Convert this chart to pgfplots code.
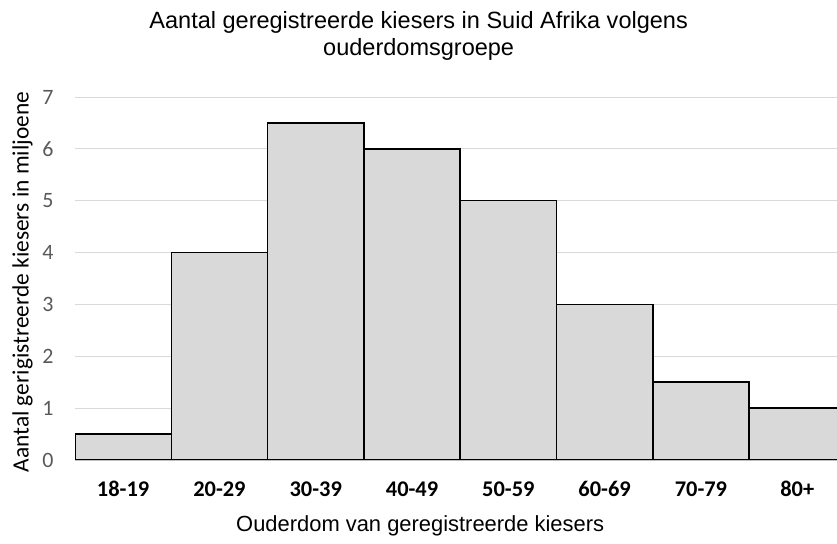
\documentclass[border=0pt]{standalone}
\usepackage{pgfplots}
\pgfplotsset{compat=1.18}
\usepackage{fontspec}
\setmainfont{Liberation Sans}
\newfontfamily\carlito{Carlito}
\definecolor{barfill}{RGB}{217,217,217}
\definecolor{gridc}{RGB}{217,217,217}
\definecolor{axc}{RGB}{191,191,191}
\definecolor{tickc}{RGB}{89,89,89}
\begin{document}
\begin{tikzpicture}
\useasboundingbox (0,0) rectangle (837bp,544bp);
\begin{axis}[
  scale only axis,
  width=762bp, height=363bp,
  at={(75bp,84bp)}, anchor=south west,
  xmin=0, xmax=7.913, ymin=0, ymax=7,
  clip=true,
  axis x line*=bottom, axis y line*=left,
  x axis line style={draw=axc, line width=0.8pt, -},
  y axis line style={draw=none},
  tick style={draw=none},
  ytick={0,1,...,7},
  ymajorgrids, grid style={draw=gridc, line width=0.8pt},
  xtick={0.5,1.5,...,7.5},
  xticklabels={18-19,20-29,30-39,40-49,50-59,60-69,70-79,80+},
  /pgf/number format/assume math mode=true,
  yticklabel style={font=\carlito\fontsize{22}{24}\selectfont, text=tickc, anchor=east, xshift=-18bp},
  xticklabel style={font=\carlito\bfseries\fontsize{22.5}{24}\selectfont, text=black, anchor=center, yshift=-29bp},
  title={Aantal geregistreerde kiesers in Suid Afrika volgens\\ouderdomsgroepe},
  title style={font=\fontsize{23.6}{27}\selectfont, align=center, at={(0.451,1.151)}, anchor=center},
  xlabel={Ouderdom van geregistreerde kiesers},
  xlabel style={font=\fontsize{22}{24}\selectfont, at={(0.453,-0.182)}, anchor=center},
  ylabel={Aantal gerigistreerde kiesers in miljoene},
  ylabel style={font=\carlito\fontsize{23.5}{24}\selectfont, at={(-0.069,0.49)}, anchor=center},
]
\addplot[ybar interval, fill=barfill, draw=black, line width=1.5pt] coordinates {
(0,0.5) (1,4) (2,6.5) (3,6) (4,5) (5,3) (6,1.5) (7,1) (8,1)};
\end{axis}
\end{tikzpicture}
\end{document}
